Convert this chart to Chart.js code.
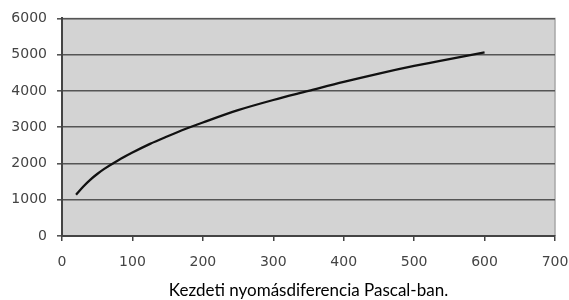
<!DOCTYPE html>
<html>
<head>
<meta charset="utf-8">
<script src="https://cdn.jsdelivr.net/npm/chart.js@4.4.1/dist/chart.umd.min.js"></script>
<style>
html,body{margin:0;padding:0;background:#fff;}
#wrap{width:569px;height:300px;position:relative;}
</style>
</head>
<body>
<div id="wrap"><canvas id="c"></canvas></div>
<script>
const pressureDiff = [20, 30, 40, 50, 60, 80, 100, 125, 150, 175, 200, 250, 300, 350, 400, 450, 500, 550, 600];
const values = [1140, 1360, 1550, 1710, 1850, 2090, 2300, 2540, 2750, 2950, 3130, 3470, 3750, 4000, 4250, 4480, 4690, 4880, 5060];
const xTicks = [0, 100, 200, 300, 400, 500, 600, 700];
const yTicks = [0, 1000, 2000, 3000, 4000, 5000, 6000];
const xTitle = 'Kezdeti nyomásdiferencia Pascal-ban.';

const bgPlugin = {
  id: 'plotBg',
  beforeDraw(chart) {
    const a = chart.chartArea, ctx = chart.ctx;
    ctx.save();
    ctx.fillStyle = '#d3d3d3';
    ctx.fillRect(a.left, a.top, a.right - a.left, a.bottom - a.top);
    ctx.strokeStyle = '#a8a8a8';
    ctx.lineWidth = 1.5;
    ctx.beginPath();
    ctx.moveTo(a.left, a.top);
    ctx.lineTo(a.right, a.top);
    ctx.lineTo(a.right, a.bottom);
    ctx.stroke();
    ctx.restore();
  }
};

new Chart(document.getElementById('c'), {
  type: 'line',
  data: {
    datasets: [{
      data: pressureDiff.map((x, i) => ({x: x, y: values[i]})),
      borderColor: '#111',
      borderWidth: 2.3,
      pointRadius: 0,
      tension: 0.4,
      cubicInterpolationMode: 'monotone',
      fill: false
    }]
  },
  options: {
    responsive: true,
    maintainAspectRatio: false,
    animation: false,
    layout: { padding: { top: 17, right: 14, left: 0, bottom: 0 } },
    plugins: { legend: { display: false }, tooltip: { enabled: false } },
    scales: {
      x: {
        type: 'linear',
        min: 0, max: 700,
        afterBuildTicks: s => { s.ticks = xTicks.map(v => ({value: v})); },
        afterFit: s => { s.height = 64; s.paddingRight = 0; s.paddingLeft = 0; },
        grid: { drawOnChartArea: false, drawTicks: true, tickLength: 5, color: '#444', lineWidth: 1.5 },
        border: { display: true, color: '#444', width: 2 },
        ticks: { color: '#444', font: { family: 'DejaVu Sans', size: 14 }, padding: 13, maxRotation: 0, callback: v => String(v) },
        title: { display: true, text: xTitle, color: '#000', font: { family: 'Lato', size: 17 }, padding: { top: 0, bottom: -1 } }
      },
      y: {
        min: 0, max: 6000,
        afterBuildTicks: s => { s.ticks = yTicks.map(v => ({value: v})); },
        afterFit: s => { s.width = 62; },
        grid: { drawOnChartArea: true, drawTicks: true, tickLength: 5, color: '#555', lineWidth: 1.6 },
        border: { display: true, color: '#444', width: 2 },
        ticks: { color: '#444', font: { family: 'DejaVu Sans', size: 14 }, padding: 10, callback: v => String(v) }
      }
    }
  },
  plugins: [bgPlugin]
});
</script>
</body>
</html>
